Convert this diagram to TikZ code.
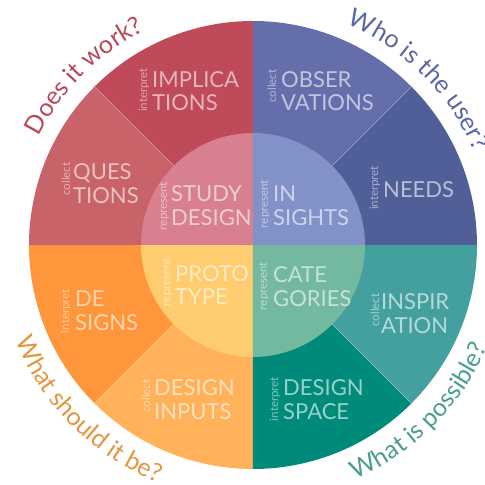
\documentclass[tikz,border=0pt]{standalone}
\usepackage{fontspec}
\setmainfont{Lato}
\usetikzlibrary{decorations.text}

\definecolor{implic}{HTML}{BE4A5A}
\definecolor{quest}{HTML}{C86469}
\definecolor{study}{HTML}{D8808F}
\definecolor{observ}{HTML}{646EAA}
\definecolor{needs}{HTML}{505F98}
\definecolor{insight}{HTML}{8291C8}
\definecolor{inspir}{HTML}{44A09E}
\definecolor{dspace}{HTML}{008A7A}
\definecolor{categ}{HTML}{73B9A0}
\definecolor{designs}{HTML}{FF963C}
\definecolor{inputs}{HTML}{FFB25A}
\definecolor{proto}{HTML}{FFCC70}
\definecolor{askred}{HTML}{B8475A}
\definecolor{askblue}{HTML}{5A66A6}
\definecolor{askorange}{HTML}{E3963F}
\definecolor{askteal}{HTML}{4A9E90}

\begin{document}
\begin{tikzpicture}[x=1pt,y=1pt,
	big/.style={font=\fontsize{22}{23.5}\selectfont,text=white,text opacity=0.6,align=left,anchor=west,inner sep=0pt},
	verb/.style={font=\fontsize{11.5}{12}\selectfont,text=white,text opacity=0.5,rotate=90,inner sep=0pt},
	sep/.style={draw=white,draw opacity=0.3,line width=0.6pt}]

\useasboundingbox (-253,-240) rectangle (232,245);

% outer ring
\fill[needs]   (0,0) -- (0:224)   arc[start angle=0,end angle=45,radius=224] -- cycle;
\fill[observ]  (0,0) -- (45:224)  arc[start angle=45,end angle=90,radius=224] -- cycle;
\fill[implic]  (0,0) -- (90:224)  arc[start angle=90,end angle=135,radius=224] -- cycle;
\fill[quest]   (0,0) -- (135:224) arc[start angle=135,end angle=180,radius=224] -- cycle;
\fill[designs] (0,0) -- (180:224) arc[start angle=180,end angle=225,radius=224] -- cycle;
\fill[inputs]  (0,0) -- (225:224) arc[start angle=225,end angle=270,radius=224] -- cycle;
\fill[dspace]  (0,0) -- (270:224) arc[start angle=270,end angle=315,radius=224] -- cycle;
\fill[inspir]  (0,0) -- (315:224) arc[start angle=315,end angle=360,radius=224] -- cycle;

\path[sep] (45:112) -- (45:224) (135:112) -- (135:224)
		(225:112) -- (225:224) (315:112) -- (315:224);

% inner disc
\fill[insight] (0,0) -- (0:112)   arc[start angle=0,end angle=90,radius=112] -- cycle;
\fill[study]   (0,0) -- (90:112)  arc[start angle=90,end angle=180,radius=112] -- cycle;
\fill[proto]   (0,0) -- (180:112) arc[start angle=180,end angle=270,radius=112] -- cycle;
\fill[categ]   (0,0) -- (270:112) arc[start angle=270,end angle=360,radius=112] -- cycle;

% labels
\node[verb]	(vimplic)	at (-109,155)		{interpret};
\node[big]	(implic)	at (-101,154)		{IMPLICA\\TIONS};
\node[verb]	(vquest)	at (-187,66)		{collect};
\node[big]	(quest)		at (-180,61.5)		{QUES\\TIONS};
\node[verb]	(vstudy)	at (-89,39)			{represent};
\node[big]	(study)		at (-82,39.5)		{STUDY\\DESIGN};

\node[verb]	(vobserv)	at (19,159)			{collect};
\node[big]	(observ)	at (28,154)			{OBSER\\VATIONS};
\node[verb]	(vneeds)	at (122,57)			{interpret};
\node[big]	(needs)		at (130,55)			{NEEDS};
\node[verb]	(vinsight)	at (12,41)			{represent};
\node[big]	(insight)	at (20,39.5)		{IN\\SIGHTS};

\node[verb]	(vproto)	at (-86,-37)		{represent};
\node[big]	(proto)		at (-78,-40)		{PROTO\\TYPE};
\node[verb]	(vdesigns)	at (-187,-66)		{interpret};
\node[big]	(designs)	at (-178,-65.5)		{DE\\SIGNS};
\node[verb]	(vinputs)	at (-107,-151)		{collect};
\node[big]	(inputs)	at (-99,-154.5)		{DESIGN\\INPUTS};

\node[verb]	(vcateg)	at (11,-41)			{represent};
\node[big]	(categ)		at (20,-41.5)		{CATE\\GORIES};
\node[verb]	(vinspir)	at (122,-65)		{collect};
\node[big]	(inspir)	at (128,-68.5)		{INSPIR\\ATION};
\node[verb]	(vdspace)	at (22,-154)		{interpret};
\node[big]	(dspace)	at (30,-154.5)		{DESIGN\\SPACE};

% questions round the ring
\path[decorate,decoration={text along path,text align=center,text color=askred,
		text={|\fontsize{25}{25}\selectfont|Does it work?}}]
	(180:240) arc[start angle=180,end angle=90,radius=240];
\path[decorate,decoration={text along path,text align=center,text color=askblue,
		text={|\fontsize{25}{25}\selectfont|Who is the user?}}]
	(90:240) arc[start angle=90,end angle=0,radius=240];
\path[decorate,decoration={text along path,text align=center,text color=askorange,
		text={|\fontsize{25}{25}\selectfont|What should it be?}}]
	(180:256) arc[start angle=180,end angle=270,radius=256];
\path[decorate,decoration={text along path,text align=center,text color=askteal,
		text={|\fontsize{25}{25}\selectfont|What is possible?}}]
	(270:256) arc[start angle=270,end angle=360,radius=256];

\end{tikzpicture}
\end{document}
